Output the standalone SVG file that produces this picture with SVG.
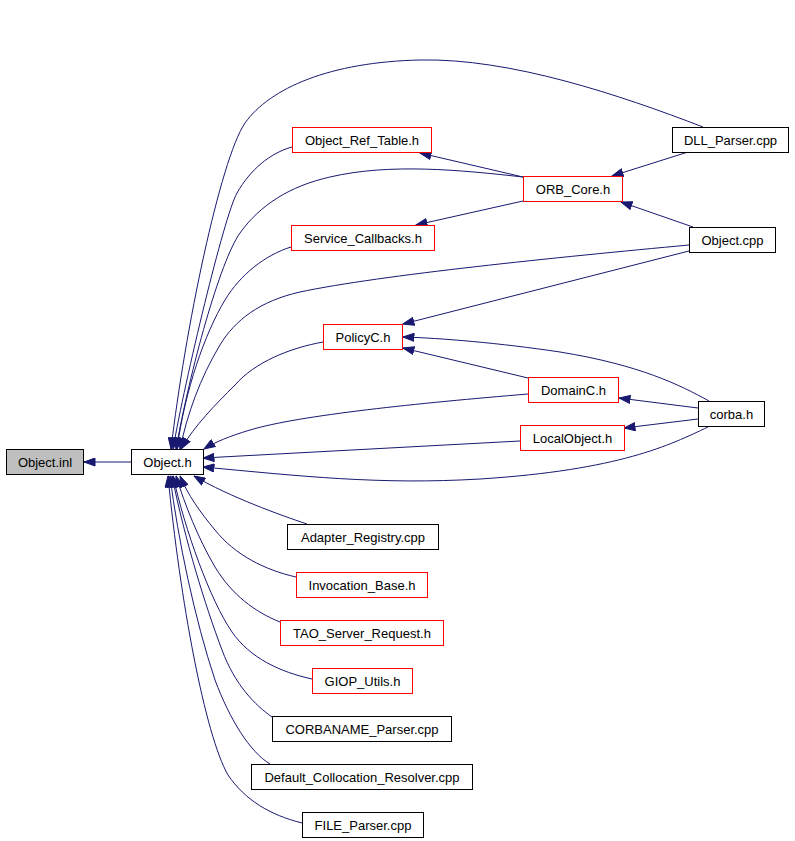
<svg xmlns="http://www.w3.org/2000/svg" width="795" height="841" viewBox="0 0 795 841">
<style>
.n rect{fill:#ffffff;stroke:#000000;stroke-width:1}
.n.r rect{stroke:#ff0000}
.n.g rect{fill:#bfbfbf}
.n text{font-family:"Liberation Sans",Arial,sans-serif;font-size:13px;fill:#000000;text-anchor:middle}
#edges path{fill:none;stroke:#191970;stroke-width:1;marker-end:url(#ah)}
</style>
<defs>
<marker id="ah" markerUnits="userSpaceOnUse" viewBox="0 0 12 9" refX="11.5" refY="4.5" markerWidth="12" markerHeight="9" orient="auto">
<path d="M0.5,0.5 L11.5,4.5 L0.5,8.5 z" fill="#191970" stroke="#191970" stroke-width="1"/>
</marker>
</defs>
<rect x="0" y="0" width="795" height="841" fill="#ffffff"/>
<g id="edges">
<path d="M131,462 L84,462"/>
<path d="M703,127 C620,95 510,58 420,60 C330,62 270,88 245,123 C220,160 185,330 171,449"/>
<path d="M292,147 C270,153 250,170 237,193 C224,216 185,380 173,449"/>
<path d="M523,177 C460,170 390,163 330,177 C290,186 260,205 240,233 C220,261 190,370 176,449"/>
<path d="M291,247 C265,255 240,275 225,300 C205,333 185,390 177,449"/>
<path d="M689,245 C560,257 380,275 300,292 C260,301 235,320 220,345 C200,378 187,415 180,449"/>
<path d="M323,342 C290,348 255,362 235,385 C215,405 195,425 181,449"/>
<path d="M528,394 C420,403 300,415 250,430 C230,436 215,442 204,449"/>
<path d="M520,441 L203,458"/>
<path d="M708,427 C670,445 620,470 480,479 C380,485 300,476 203,467"/>
<path d="M307,524 C280,515 230,497 194,476"/>
<path d="M296,577 C265,570 235,555 215,530 C200,512 188,495 180,476"/>
<path d="M280,622 C255,612 232,595 215,567 C198,538 185,505 176,476"/>
<path d="M312,679 C280,672 250,658 232,632 C210,600 185,530 173,476"/>
<path d="M272,717 C255,705 235,685 222,650 C205,605 185,540 172,476"/>
<path d="M270,764 C250,752 230,720 215,680 C195,620 178,540 170,476"/>
<path d="M302,823 C270,815 245,800 228,775 C205,735 180,600 168,476"/>
<path d="M523,177 L420,153"/>
<path d="M523,201 L416,225"/>
<path d="M688,152 L612,176"/>
<path d="M693,227 L621,202"/>
<path d="M689,251 L403,324"/>
<path d="M709,401 C680,385 640,365 560,352 C500,343 440,338 403,337"/>
<path d="M528,378 L403,348"/>
<path d="M698,408 L619,398"/>
<path d="M698,419 L624,428"/>
</g>
<g id="node-object-inl" class="n g"><rect x="6.5" y="449.5" width="77" height="25"/><text x="45" y="466.5">Object.inl</text></g>
<g id="node-object-h" class="n"><rect x="131.5" y="449.5" width="72" height="25"/><text x="167.5" y="466.5">Object.h</text></g>
<g id="node-object-ref-table" class="n r"><rect x="292.5" y="127.5" width="139" height="25"/><text x="362" y="144.5">Object_Ref_Table.h</text></g>
<g id="node-orb-core" class="n r"><rect x="523.5" y="176.5" width="99" height="25"/><text x="573" y="193.5">ORB_Core.h</text></g>
<g id="node-service-callbacks" class="n r"><rect x="291.5" y="225.5" width="143" height="25"/><text x="363" y="242.5">Service_Callbacks.h</text></g>
<g id="node-dll-parser" class="n"><rect x="672.5" y="127.5" width="116" height="25"/><text x="730.5" y="144.5">DLL_Parser.cpp</text></g>
<g id="node-object-cpp" class="n"><rect x="689.5" y="227.5" width="86" height="25"/><text x="732.5" y="244.5">Object.cpp</text></g>
<g id="node-policyc" class="n r"><rect x="323.5" y="324.5" width="79" height="25"/><text x="363" y="341.5">PolicyC.h</text></g>
<g id="node-domainc" class="n r"><rect x="528.5" y="377.5" width="90" height="25"/><text x="573.5" y="394.5">DomainC.h</text></g>
<g id="node-corba" class="n"><rect x="698.5" y="401.5" width="66" height="25"/><text x="731.5" y="418.5">corba.h</text></g>
<g id="node-localobject" class="n r"><rect x="520.5" y="425.5" width="104" height="25"/><text x="572.5" y="442.5">LocalObject.h</text></g>
<g id="node-adapter-registry" class="n"><rect x="287.5" y="524.5" width="151" height="25"/><text x="363" y="541.5">Adapter_Registry.cpp</text></g>
<g id="node-invocation-base" class="n r"><rect x="296.5" y="572.5" width="131" height="25"/><text x="362" y="589.5">Invocation_Base.h</text></g>
<g id="node-tao-server-request" class="n r"><rect x="280.5" y="620.5" width="163" height="25"/><text x="362" y="637.5">TAO_Server_Request.h</text></g>
<g id="node-giop-utils" class="n r"><rect x="312.5" y="668.5" width="100" height="25"/><text x="362.5" y="685.5">GIOP_Utils.h</text></g>
<g id="node-corbaname-parser" class="n"><rect x="272.5" y="716.5" width="179" height="25"/><text x="362" y="733.5">CORBANAME_Parser.cpp</text></g>
<g id="node-default-collocation-resolver" class="n"><rect x="251.5" y="764.5" width="221" height="25"/><text x="362" y="781.5">Default_Collocation_Resolver.cpp</text></g>
<g id="node-file-parser" class="n"><rect x="302.5" y="812.5" width="121" height="25"/><text x="363" y="829.5">FILE_Parser.cpp</text></g>
</svg>
